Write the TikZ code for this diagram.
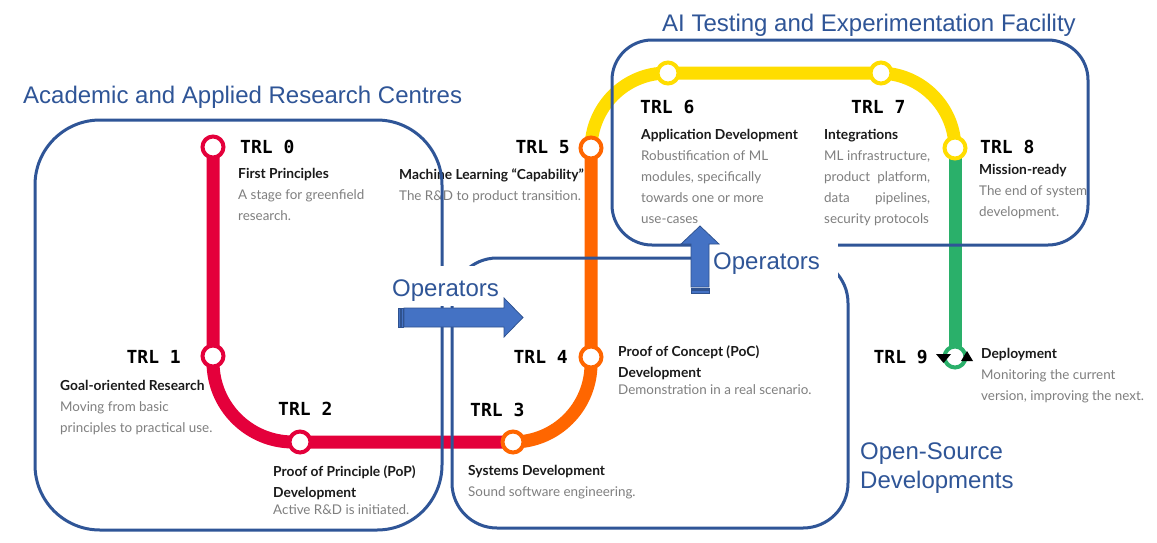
\documentclass[tikz,border=0pt]{standalone}
\usepackage{fontspec}
\setmainfont{Lato}
\newfontfamily\headfont{Liberation Sans}
\newfontfamily\trlfont{DejaVu Sans Mono}
\definecolor{regblue}{HTML}{2F5597}
\definecolor{opsfill}{HTML}{4472C4}
\definecolor{opsdraw}{HTML}{2F528F}
\definecolor{trlred}{HTML}{E4003B}
\definecolor{trlorange}{HTML}{FF6600}
\definecolor{trlyellow}{HTML}{FFDD00}
\definecolor{trlgreen}{HTML}{2AB06A}
\definecolor{greytext}{HTML}{7F7F7F}
\definecolor{darktext}{HTML}{1A1A1A}
\newcommand{\stoptitle}[1]{{\fontsize{13.8}{21}\selectfont\textcolor{darktext}{\bfseries #1}}}

\begin{document}
\begin{tikzpicture}[x=1pt,y=-1pt,
  metro/.style={line width=13pt},
  station/.style={circle,draw=#1,fill=white,line width=4pt,minimum size=21pt,inner sep=0pt},
  trl/.style={font=\trlfont\bfseries\fontsize{18}{18}\selectfont,text=black,inner sep=0pt},
  stop/.style={align=left,inner sep=0pt,anchor=base west,text=greytext,
    font=\fontsize{13.4}{21}\selectfont},
  region/.style={draw=regblue,line width=3pt},
  regiontitle/.style={font=\headfont\fontsize{24}{29}\selectfont,text=regblue,
    align=left,inner sep=0pt,anchor=base west},
  ops/.style={fill=opsfill,draw=opsdraw,line width=0.75pt}]
\fill[white] (0,0) rectangle (1157,542);
\useasboundingbox (0,0) rectangle (1157,542);
% station positions
\foreach \n/\x/\y in {0/213/147,1/213/356,2/300/442,3/513/442,4/591/357,
  5/591/148,6/668/73,7/881/73,8/955/148,9/955/357}
  \coordinate (p\n) at (\x,\y);
% the line, from TRL 0 to TRL 9
\draw[metro,trlred,rounded corners=80pt] (p0) -- (p0 |- p3) -- (p3);
\draw[metro,trlorange,rounded corners=78pt] (p3) -- (p3 -| p4) -- (p5);
\draw[metro,trlyellow,rounded corners=76pt] (p5) -- (p5 |- p6) -- (p8 |- p7) -- (p8);
\draw[metro,trlgreen] (p8) -- (p9);
\foreach \n/\c in {0/trlred,1/trlred,2/trlred,3/trlorange,4/trlorange,
  5/trlorange,6/trlyellow,7/trlyellow,8/trlyellow,9/trlgreen}
  \node[station=\c] (s\n) at (p\n) {};
% deployment loop
\fill[black] (936,354) -- (951,354) -- (943.5,363) -- cycle;
\fill[black] (961,361) -- (973,361) -- (967,351) -- cycle;
% TRL labels
\node[trl,anchor=base west] (t0) at (240,153.5) {TRL 0};
\node[trl,anchor=base east] (t1) at (181,363) {TRL 1};
\node[trl,anchor=base west] (t2) at (278,415.5) {TRL 2};
\node[trl,anchor=base west] (t3) at (470,416) {TRL 3};
\node[trl,anchor=base east] (t4) at (568,363.5) {TRL 4};
\node[trl,anchor=base east] (t5) at (570,153.5) {TRL 5};
\node[trl,anchor=base west] (t6) at (640,113) {TRL 6};
\node[trl,anchor=base west] (t7) at (851,113) {TRL 7};
\node[trl,anchor=base west] (t8) at (980,153.5) {TRL 8};
\node[trl,anchor=base east] (t9) at (928,363) {TRL 9};
% stop descriptions (placed at the baseline of their last line)
\node[stop] (d0) at (238,220) {\stoptitle{First Principles}\\A stage for greenfield\\research.};
\node[stop] (d1) at (60,432) {\stoptitle{Goal-oriented Research}\\Moving from basic\\principles to practical use.};
\node[stop] (d2) at (273,514) {\stoptitle{Proof of Principle (PoP)}\\\stoptitle{Development}\\[-4pt]Active R\&D is initiated.};
\node[stop] (d3) at (468,496) {\stoptitle{Systems Development}\\Sound software engineering.};
\node[stop] (d4) at (618,394) {\stoptitle{Proof of Concept (PoC)}\\\stoptitle{Development}\\[-4pt]Demonstration in a real scenario.};
\node[stop] (d5) at (399,200) {\stoptitle{Machine Learning “Capability”}\\The R\&D to product transition.};
\node[stop] (d6) at (641,223) {\stoptitle{Application Development}\\Robustification of ML\\modules, specifically\\towards one or more\\use-cases};
\node[stop] (d7) at (824,223) {\stoptitle{Integrations}\\\makebox[106pt][s]{ML infrastructure,}\\
  \makebox[106pt][s]{product platform,}\\\makebox[106pt][s]{data pipelines,}\\security protocols};
\node[stop] (d8) at (979,216) {\stoptitle{Mission-ready}\\The end of system\\development.};
\node[stop] (d9) at (981,400) {\stoptitle{Deployment}\\Monitoring the current\\version, improving the next.};
% regions
\draw[region,rounded corners=65pt] (35,120) rectangle (442,530);
\draw[region,rounded corners=45pt] (452,258) rectangle (848,528);
\draw[region,rounded corners=40pt] (612,40) rectangle (1088,245);
\node[regiontitle] (acad) at (23,103) {Academic and Applied Research Centres};
\node[regiontitle] (aitef) at (662,31) {AI Testing and Experimentation Facility};
\node[regiontitle] (osd) at (860,488) {Open-Source\\Developments};
% operators
\fill[white] (388,266) rectangle (506,306);
\node[regiontitle] (opsleft) at (392,296) {Operators};
\draw[ops] (404,308) -- (504,308) -- (504,298) -- (523,317.5) -- (504,337)
  -- (504,327) -- (404,327) -- cycle;
\draw[ops] (398,308) rectangle (400.5,327);
\draw[ops] (401.5,308) rectangle (403,327);
\fill[white] (709,240) rectangle (838,300);
\node[regiontitle] (opsright) at (713,269) {Operators};
\draw[ops] (691,287) -- (691,244) -- (681,244) -- (700,226) -- (719,244)
  -- (709,244) -- (709,287) -- cycle;
\draw[ops] (691,288) rectangle (709,289.5);
\draw[ops] (691,290.5) rectangle (709,293);
\end{tikzpicture}
\end{document}
